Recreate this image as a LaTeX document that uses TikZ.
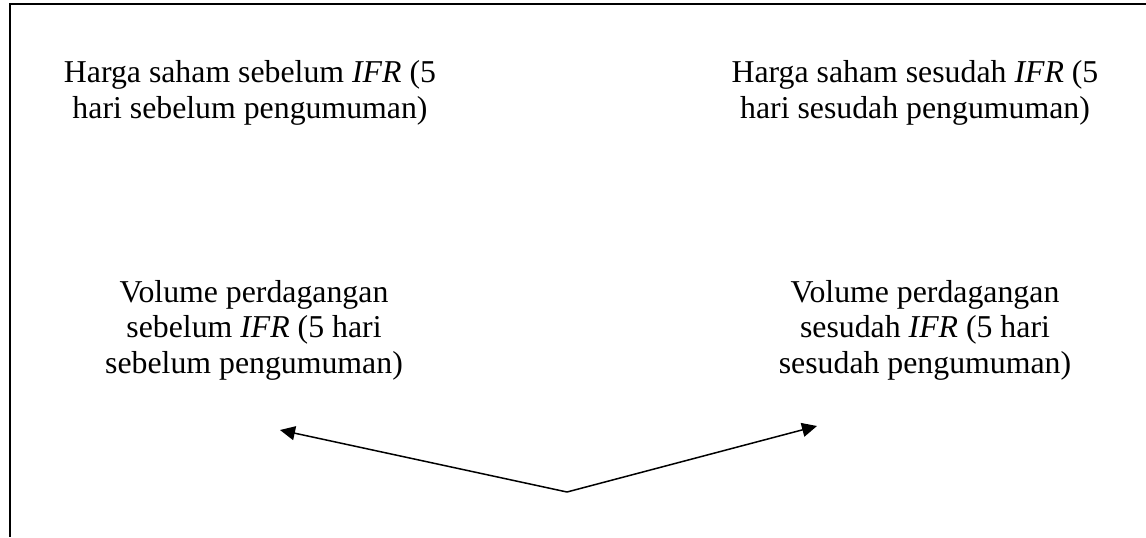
\documentclass[tikz,border=0pt]{standalone}
\usepackage{fontspec}
\setmainfont{Liberation Serif}
\usetikzlibrary{arrows.meta,positioning}

\begin{document}
\begin{tikzpicture}[
  x=0.5pt,y=-0.5pt,
  font=\fontsize{15.9}{17.8}\selectfont,
  arrow/.style={-{Triangle[length=7.5pt,width=7pt]},line width=0.75pt,draw=black},
  framebox/.style={line width=0.9pt,draw=black},
  varlabel/.style={align=center,inner sep=0pt}
]
\useasboundingbox (0,0) rectangle (1146,537);

% Frame: only its top and left sides show.
\coordinate (frameTL) at (10,4);
\coordinate (frameTR) at (1146,4);
\coordinate (frameBL) at (10,537);
\draw[framebox] (frameTR) -- (frameTL) -- (frameBL);

% Share price, before and after.
\node[varlabel] (hargaSebelum) at (250,93) {Harga saham sebelum \textit{IFR} (5\\
  hari sebelum pengumuman)};
\node[varlabel] (hargaSesudah) at (915,93) {Harga saham sesudah \textit{IFR} (5\\
  hari sesudah pengumuman)};

% Trading volume, before and after.
\node[varlabel] (volumeSebelum) at (254,330) {Volume perdagangan\\
  sebelum \textit{IFR} (5 hari\\
  sebelum pengumuman)};
\node[varlabel] (volumeSesudah) at (925,330) {Volume perdagangan\\
  sesudah \textit{IFR} (5 hari\\
  sesudah pengumuman)};

% Fork of arrows below the volume labels.
\coordinate (apex) at (567,492);
\coordinate (tipLeft) at (280,430);
\coordinate (tipRight) at (817,426);
\draw[arrow] (apex) -- (tipLeft);
\draw[arrow] (apex) -- (tipRight);
\end{tikzpicture}
\end{document}
